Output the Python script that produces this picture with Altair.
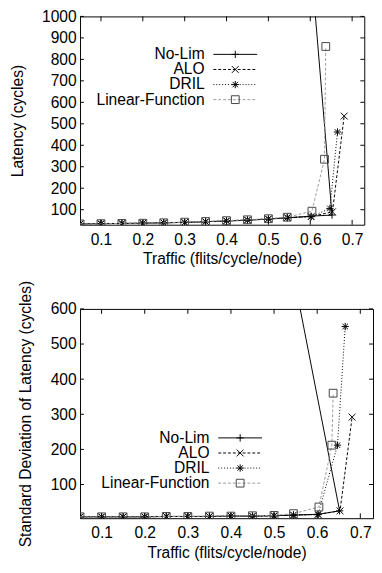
import altair as alt
import pandas as pd

FONT = "Liberation Sans"
FS = 16

SERIES = ["No-Lim", "ALO", "DRIL", "Linear-Function"]
X_TICKS = [0.1, 0.2, 0.3, 0.4, 0.5, 0.6, 0.7]
LAT_TICKS = [100, 200, 300, 400, 500, 600, 700, 800, 900, 1000]
SD_TICKS = [100, 200, 300, 400, 500, 600]

# traffic (flits/cycle/node) of each measured point, in plotting order
nolim_x = [0.05, 0.1, 0.15, 0.2, 0.25, 0.3, 0.35, 0.4, 0.45, 0.5, 0.545, 0.602, 0.652, 0.52]
alo_x = [0.05, 0.1, 0.15, 0.2, 0.25, 0.3, 0.35, 0.4, 0.45, 0.5, 0.545, 0.602, 0.653, 0.681]
dril_x = [0.05, 0.1, 0.15, 0.2, 0.25, 0.3, 0.35, 0.4, 0.45, 0.5, 0.545, 0.602, 0.647, 0.665]
lf_x = [0.05, 0.1, 0.15, 0.2, 0.25, 0.3, 0.35, 0.4, 0.45, 0.5, 0.545, 0.604, 0.634, 0.637]

# latency (cycles)
nolim_lat = [34, 35, 36, 37, 39, 41, 44, 47, 51, 56, 62, 70, 75, 3150]
alo_lat = [34, 35, 36, 37, 39, 41, 44, 48, 52, 57, 63, 68, 90, 536]
dril_lat = [34, 35, 36, 37, 39, 41, 44, 48, 52, 57, 63, 67, 106, 462]
lf_lat = [34, 35, 36, 37, 39, 42, 45, 49, 53, 58, 65, 93, 335, 860]

# standard deviation of latency (cycles)
nolim_sd = [8, 8, 8, 8, 9, 9, 9, 10, 10, 11, 13, 15, 25, 855]
alo_sd = [8, 8, 8, 8, 9, 9, 9, 10, 10, 11, 13, 15, 25, 292]
dril_sd = [8, 8, 8, 8, 9, 9, 9, 10, 10, 11, 13, 14, 212, 550]
lf_sd = [8, 8, 8, 8, 9, 9, 10, 10, 11, 12, 17, 36, 212, 360]

XS = [nolim_x, alo_x, dril_x, lf_x]

PLUS = "M-1,0L1,0M0,-1L0,1"
CROSS = "M-1,-1L1,1M-1,1L1,-1"
STAR = "M-1,0L1,0M0,-1L0,1M-0.75,-0.75L0.75,0.75M-0.75,0.75L0.75,-0.75"
STYLES = [
    dict(line="#000000", point="#000000", dash=None, shape=PLUS, size=56),
    dict(line="#000000", point="#000000", dash=[3, 2], shape=CROSS, size=49),
    dict(line="#000000", point="#000000", dash=[1, 2], shape=STAR, size=56),
    dict(line="#9a9a9a", point="#444444", dash=[3, 2], shape="square", size=64),
]

AXIS_FONT = dict(labelFont=FONT, titleFont=FONT, labelFontSize=FS, titleFontSize=FS,
                 labelColor="black", titleColor="black", titleFontWeight="normal",
                 labelFontWeight="normal")


def line_mark(st, **kw):
    args = dict(color=st["line"], strokeWidth=1, **kw)
    if st["dash"]:
        args["strokeDash"] = st["dash"]
    return args


def panel(yseries, xmax, ydomain, yticks, ytitle, W, H, leg):
    rows = []
    for name, xs, ys in zip(SERIES, XS, yseries):
        for i, (x, y) in enumerate(zip(xs, ys)):
            rows.append(dict(series=name, traffic=x, value=y, idx=i))
    df = pd.DataFrame(rows)

    xscale = alt.Scale(domain=[0.05, xmax], nice=False, zero=False)
    yscale = alt.Scale(domain=ydomain, nice=False, zero=False)
    xaxis = alt.Axis(values=X_TICKS, format=".1f", title="Traffic (flits/cycle/node)",
                     ticks=False, tickSize=0, domain=False, grid=False,
                     labelPadding=7, titlePadding=4, labelOverlap=False,
                     labelFlush=False, **AXIS_FONT)
    yaxis = alt.Axis(values=yticks, format="d", title=ytitle,
                     ticks=False, tickSize=0, domain=False, grid=False,
                     labelPadding=4, titlePadding=17, labelOverlap=False, **AXIS_FONT)
    X = alt.X("traffic:Q", scale=xscale, axis=xaxis)
    Y = alt.Y("value:Q", scale=yscale, axis=yaxis)

    layers = []
    for name, st in zip(SERIES, STYLES):
        sub = df[df.series == name]
        base = alt.Chart(sub)
        layers.append(base.mark_line(clip=True, **line_mark(st)).encode(
            x=X, y=Y, order="idx:Q"))
        layers.append(base.mark_point(clip=True, shape=st["shape"], size=st["size"],
                                      filled=False, color=st["point"], strokeWidth=1,
                                      opacity=1).encode(x=X, y=Y))

    # inward tick marks on all four sides
    xt = alt.Chart(pd.DataFrame({"traffic": X_TICKS}))
    yt = alt.Chart(pd.DataFrame({"value": yticks}))
    layers.append(xt.mark_rule(color="black", strokeWidth=1).encode(
        x=X, y=alt.value(H), y2=alt.value(H - 5)))
    layers.append(xt.mark_rule(color="black", strokeWidth=1).encode(
        x=X, y=alt.value(0), y2=alt.value(5)))
    layers.append(yt.mark_rule(color="black", strokeWidth=1).encode(
        y=Y, x=alt.value(0), x2=alt.value(4)))
    layers.append(yt.mark_rule(color="black", strokeWidth=1).encode(
        y=Y, x=alt.value(W), x2=alt.value(W - 4)))

    # gnuplot-style key: label on the left, line sample with marker on the right
    tx, l1, l2, mx, y0, dy = leg
    for i, (name, st) in enumerate(zip(SERIES, STYLES)):
        yy = y0 + i * dy
        one = alt.Chart(pd.DataFrame({"label": [name]}))
        layers.append(one.mark_text(align="right", baseline="middle", font=FONT,
                                    fontSize=FS, color="black").encode(
            text="label:N", x=alt.value(tx), y=alt.value(yy)))
        layers.append(one.mark_rule(**line_mark(st)).encode(
            x=alt.value(l1), x2=alt.value(l2), y=alt.value(yy)))
        layers.append(one.mark_point(shape=st["shape"], size=st["size"], filled=False,
                                     color=st["point"], strokeWidth=1, opacity=1).encode(
            x=alt.value(mx), y=alt.value(yy)))

    return alt.layer(*layers).properties(width=W, height=H)


top = panel([nolim_lat, alo_lat, dril_lat, lf_lat], 0.729, [30, 1000], LAT_TICKS,
            "Latency (cycles)", 292, 214, (128, 137, 182, 159.5, 39, 15.5))
bottom = panel([nolim_sd, alo_sd, dril_sd, lf_sd], 0.7295, [4, 600], SD_TICKS,
               "Standard Deviation of Latency (cycles)", 301, 215,
               (133, 142, 187, 164.5, 132.5, 15.5))

chart = alt.concat(top, bottom, columns=1, spacing=12.5).properties(
    align="none",
    padding={"left": 0, "top": -8, "right": 0, "bottom": 0},
).configure_view(stroke="black", strokeWidth=1)

chart.save("out.html", embed_options={"renderer": "svg", "actions": False})
